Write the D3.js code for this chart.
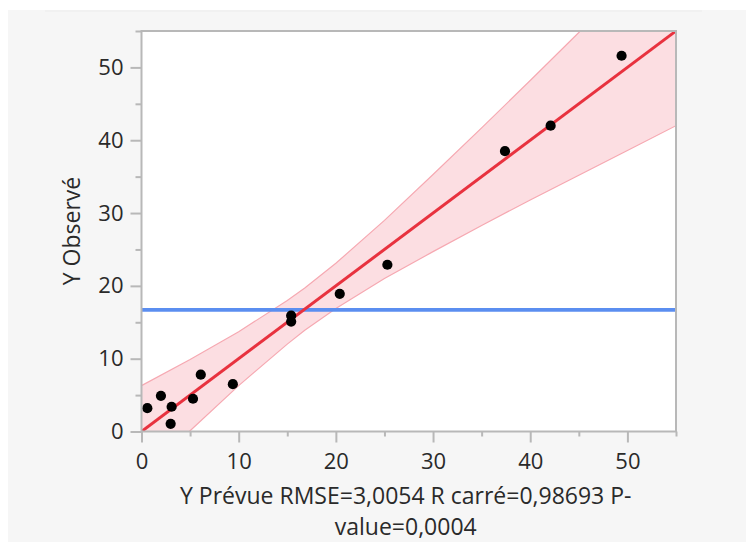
<!DOCTYPE html>
<html>
<head>
<meta charset="utf-8">
<script src="https://cdn.jsdelivr.net/npm/d3@7"></script>
<style>
  html, body { margin: 0; padding: 0; background: #ffffff; }
  svg { display: block; }
  text { font-family: "Open Sans", "Noto Sans", sans-serif; fill: #2a2a2a; }
</style>
</head>
<body>
<svg id="chart" width="746" height="542"></svg>
<script>
// Points: predicted Y (x) vs observed Y (y)
const predicted = [0.6, 2.0, 3.1, 3.0, 5.3, 6.1, 9.4, 15.4, 15.4, 20.4, 25.3, 37.4, 42.1, 49.4];
const observed  = [3.2, 4.9, 3.4, 1.05, 4.5, 7.8, 6.5, 15.9, 15.1, 18.9, 22.9, 38.5, 42.0, 51.6];
// Fit line (observed = predicted)
const fitX = [0, 55];
const fitY = [0, 55];
// Confidence band
const bandX     = [0, 5, 10, 15, 16.8, 20, 25, 30, 35, 40, 45, 50, 55];
const bandLower = [-6.3, 0.1, 6.3, 12.0, 13.9, 16.9, 21.0, 24.7, 28.3, 31.8, 35.2, 38.6, 42.0];
const bandUpper = [6.3, 9.9, 13.7, 18.0, 19.7, 23.1, 29.0, 35.3, 41.7, 48.2, 54.8, 61.4, 68.0];
// Mean of observed Y
const meanY = 16.7;
// Axis ticks
const majorTicks = [0, 10, 20, 30, 40, 50];
const minorTicks = [5, 15, 25, 35, 45, 55];
const xTitleLines = ["Y Prévue RMSE=3,0054 R carré=0,98693 P-", "value=0,0004"];
const yTitle = "Y Observé";

const svg = d3.select("#chart");
const W = 746, H = 542;

// panel background
svg.append("rect").attr("x", 8).attr("y", 10).attr("width", W - 8).attr("height", H - 10).attr("fill", "#f6f6f6");
svg.append("line").attr("x1", 45).attr("x2", 702).attr("y1", 11).attr("y2", 11)
  .attr("stroke", "#ebebeb").attr("stroke-width", 1.2);

const x = d3.scaleLinear().domain([0, 55]).range([141.5, 676]);
const y = d3.scaleLinear().domain([0, 55]).range([431.5, 31]);

const [x0, x1] = x.range();
const [y0, y1] = y.range();

svg.append("rect").attr("x", x0).attr("y", y1).attr("width", x1 - x0).attr("height", y0 - y1).attr("fill", "#ffffff");

svg.append("clipPath").attr("id", "clip").append("rect")
  .attr("x", x0).attr("y", y1).attr("width", x1 - x0).attr("height", y0 - y1);

const plot = svg.append("g").attr("clip-path", "url(#clip)");

const band = bandX.map((v, i) => ({x: v, lo: bandLower[i], hi: bandUpper[i]}));
plot.append("path").datum(band)
  .attr("d", d3.area().x(d => x(d.x)).y0(d => y(d.lo)).y1(d => y(d.hi)))
  .attr("fill", "#fcdee2");
plot.append("path").datum(band)
  .attr("d", d3.line().x(d => x(d.x)).y(d => y(d.lo)))
  .attr("fill", "none").attr("stroke", "#f6a9b2").attr("stroke-width", 1.2);
plot.append("path").datum(band)
  .attr("d", d3.line().x(d => x(d.x)).y(d => y(d.hi)))
  .attr("fill", "none").attr("stroke", "#f6a9b2").attr("stroke-width", 1.2);

// mean line
plot.append("line").attr("x1", x0).attr("x2", x1).attr("y1", y(meanY)).attr("y2", y(meanY))
  .attr("stroke", "#5b8ef0").attr("stroke-width", 3.6);

// fit line
plot.append("line").attr("x1", x(fitX[0])).attr("y1", y(fitY[0])).attr("x2", x(fitX[1])).attr("y2", y(fitY[1]))
  .attr("stroke", "#e8323f").attr("stroke-width", 3);

// points
plot.selectAll("circle.pt").data(predicted.map((p, i) => ({p, o: observed[i]})))
  .enter().append("circle").attr("class", "pt")
  .attr("cx", d => x(d.p)).attr("cy", d => y(d.o)).attr("r", 5.1).attr("fill", "#000");

// axes
const axisColor = "#b8b8b8";
const tickFont = 22;
const gx = svg.append("g").attr("transform", `translate(0,${y0})`)
  .call(d3.axisBottom(x).tickValues(majorTicks).tickSize(11).tickPadding(11).tickFormat(d3.format("d")));
const gxm = svg.append("g").attr("transform", `translate(0,${y0})`)
  .call(d3.axisBottom(x).tickValues(minorTicks).tickSize(5).tickFormat(""));
const gy = svg.append("g").attr("transform", `translate(${x0},0)`)
  .call(d3.axisLeft(y).tickValues(majorTicks).tickSize(11).tickPadding(7).tickFormat(d3.format("d")));
const gym = svg.append("g").attr("transform", `translate(${x0},0)`)
  .call(d3.axisLeft(y).tickValues(minorTicks).tickSize(6).tickFormat(""));
[gx, gxm, gy, gym].forEach(g => {
  g.selectAll("path.domain").remove();
  g.selectAll(".tick line").attr("stroke", axisColor).attr("stroke-width", 2);
  g.selectAll(".tick text").attr("font-size", tickFont).attr("fill", "#2a2a2a")
    .style("font-family", '"Open Sans", "Noto Sans", sans-serif');
});

// frame
svg.append("rect").attr("x", x0).attr("y", y1).attr("width", x1 - x0).attr("height", y0 - y1)
  .attr("fill", "none").attr("stroke", axisColor).attr("stroke-width", 2);

// titles
const titleFont = 23;
const cx = (x0 + x1) / 2 - 3;
svg.append("text").attr("x", cx).attr("y", 504).attr("text-anchor", "middle")
  .attr("font-size", titleFont).text(xTitleLines[0]);
svg.append("text").attr("x", cx).attr("y", 535).attr("text-anchor", "middle")
  .attr("font-size", titleFont).text(xTitleLines[1]);
svg.append("text").attr("transform", `translate(80,231) rotate(-90)`).attr("text-anchor", "middle")
  .attr("font-size", titleFont).text(yTitle);
</script>
</body>
</html>
